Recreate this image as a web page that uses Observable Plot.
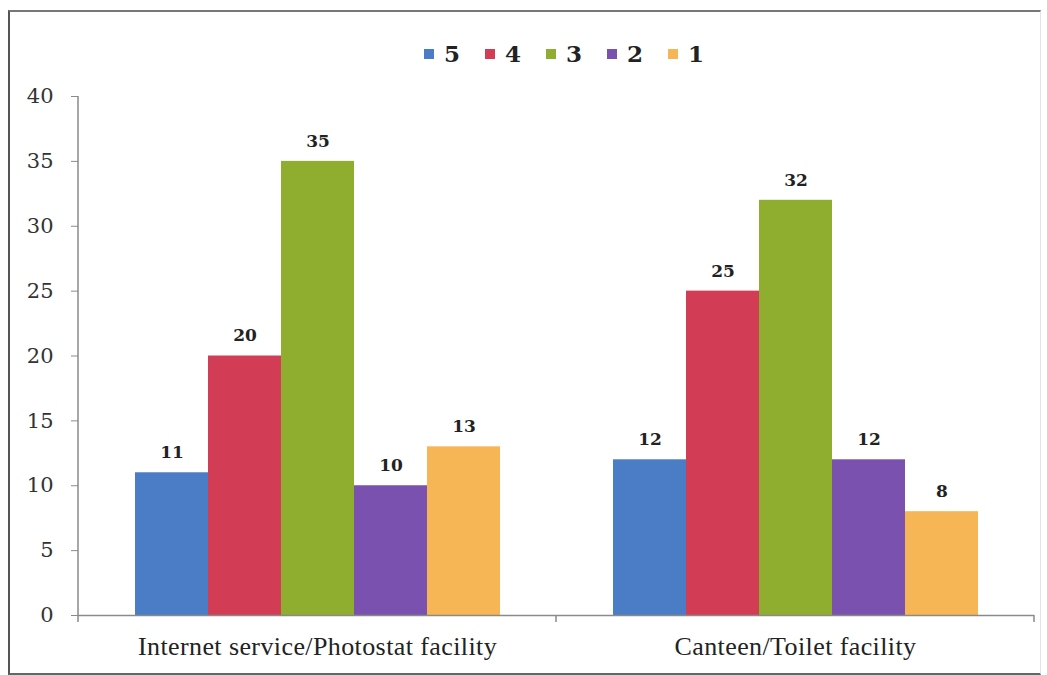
<!DOCTYPE html>
<html>
<head>
<meta charset="utf-8">
<script src="https://cdn.jsdelivr.net/npm/d3@7"></script>
<script src="https://cdn.jsdelivr.net/npm/@observablehq/plot@0.6"></script>
<style>
  html, body { margin: 0; padding: 0; background: #fff; }
  #wrap { position: relative; width: 1047px; height: 675px; overflow: hidden; }
  #border { position: absolute; left: 8px; top: 10px; width: 1030px; height: 661px;
            border-left: 2px solid #555; border-top: 2px solid #777; border-bottom: 2px solid #666; border-right: 1px solid #e4e4e4; }
  #legend { position: absolute; top: 40px; left: 424px; display: flex;
            font-family: "DejaVu Serif", serif; font-weight: bold; font-size: 23px; color: #222; }
  .item { display: flex; align-items: center; width: 61px; }
  .sw { width: 10px; height: 10px; margin-right: 10px; }
  #chart { position: absolute; left: 0; top: 0; }
</style>
</head>
<body>
<div id="wrap">
  <div id="border"></div>
  <div id="legend"></div>
  <div id="chart"></div>
</div>
<script>
const categories = ["Internet service/Photostat facility", "Canteen/Toilet facility"];
const series = ["5", "4", "3", "2", "1"];
const internetValues = [11, 20, 35, 10, 13];
const canteenValues = [12, 25, 32, 12, 8];
const seriesColors = ["#4a7dc6", "#d23c55", "#8fad2f", "#7a51ae", "#f6b655"];
const yTicks = [0, 5, 10, 15, 20, 25, 30, 35, 40];

const valuesByCategory = [internetValues, canteenValues];
const rows = categories.flatMap((c, i) =>
  series.map((s, j) => ({category: c, series: s, value: valuesByCategory[i][j]})));

// legend
const legend = document.getElementById("legend");
series.forEach((s, i) => {
  const it = document.createElement("div");
  it.className = "item";
  const sw = document.createElement("div");
  sw.className = "sw";
  sw.style.background = seriesColors[i];
  const t = document.createElement("span");
  t.textContent = s;
  it.appendChild(sw); it.appendChild(t);
  legend.appendChild(it);
});

const plot = Plot.plot({
  width: 1047,
  height: 675,
  marginLeft: 78,
  marginRight: 13,
  marginTop: 96,
  marginBottom: 60,
  style: {background: "transparent", color: "#222"},
  fx: {domain: categories, padding: 0, label: null},
  x: {domain: series, paddingInner: 0, paddingOuter: 0.75, axis: null},
  y: {domain: [0, 40], label: null},
  color: {domain: series, range: seriesColors},
  marks: [
    Plot.barY(rows, {fx: "category", x: "series", y: "value", fill: "series", inset: 0}),
    Plot.text(rows, {fx: "category", x: "series", y: "value", text: d => String(d.value),
      dy: -20, fontWeight: "bold", fontSize: 17, fontFamily: "DejaVu Serif", fill: "#222"}),
    Plot.ruleY([0], {stroke: "#8a8a8a", strokeWidth: 1.5}),
    Plot.axisY({ticks: yTicks, tickSize: 7, tickPadding: 18, fontSize: 21,
      fontFamily: "DejaVu Serif", stroke: "#8a8a8a", fill: "#333", label: null}),
    Plot.axisFx({anchor: "bottom", tickSize: 0, tickPadding: 21, fontSize: 26,
      fontFamily: "Liberation Serif", fill: "#222", label: null})
  ]
});
document.getElementById("chart").appendChild(plot);

// y-axis domain line and category boundary ticks, derived from the plot's scales
const fx = plot.scale("fx");
const y = plot.scale("y");
const svg = d3.select(plot);
svg.selectAll("[aria-label='fx-axis tick label'] text").style("letter-spacing", "0.4px");
const y0 = y.apply(0), y1 = y.apply(40);
const bounds = categories.map(c => fx.apply(c)).concat([fx.apply(categories[categories.length - 1]) + fx.bandwidth]);
svg.append("line").attr("x1", bounds[0]).attr("x2", bounds[0]).attr("y1", y1).attr("y2", y0)
  .attr("stroke", "#8a8a8a").attr("stroke-width", 1.5);
bounds.forEach(b => {
  svg.append("line").attr("x1", b).attr("x2", b).attr("y1", y0).attr("y2", y0 + 7)
    .attr("stroke", "#8a8a8a").attr("stroke-width", 1.5);
});
</script>
</body>
</html>
